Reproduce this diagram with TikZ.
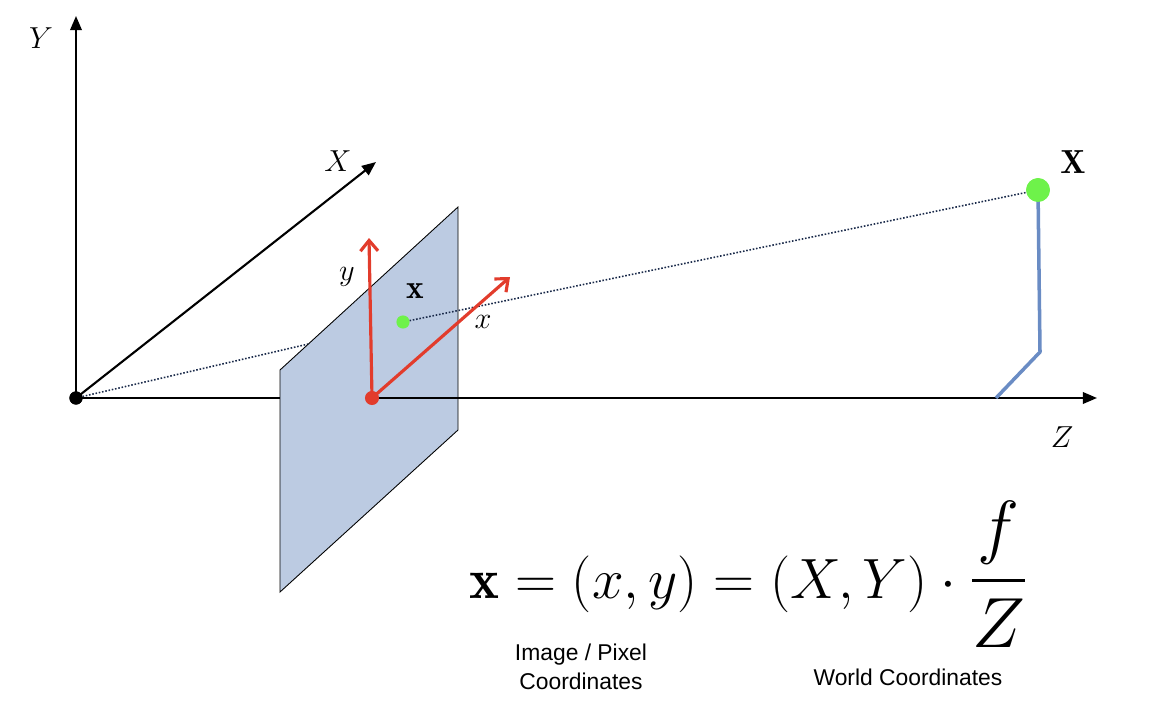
\documentclass[tikz,border=0pt]{standalone}
\usepackage{amsmath,amssymb}
\usepackage{graphicx}
\usepackage{fontspec}
\setsansfont{Liberation Sans}
\usetikzlibrary{arrows.meta,positioning}
\definecolor{planeBlue}{HTML}{BCCBE2}
\definecolor{pinRed}{HTML}{E23C2C}
\definecolor{ptGreen}{HTML}{6EF24A}
\definecolor{poleBlue}{HTML}{6A8CC4}
\definecolor{rayNavy}{HTML}{1A2A4A}

\begin{document}
\begin{tikzpicture}[x=0.02cm,y=-0.02cm,
    axis/.style={line width=1.2pt,-{Triangle[length=8pt,width=6.5pt]}},
    camarrow/.style={pinRed,line width=1.8pt,-{Straight Barb[length=6pt,width=10pt]}},
    ray/.style={rayNavy,densely dotted,line width=0.9pt},
    lbl/.style={font=\fontsize{19}{22}\selectfont,inner sep=0pt},
    dot/.style={circle,inner sep=0pt,minimum size=#1}]
  \useasboundingbox (0,0) rectangle (1158,726);

  % world frame
  \node[dot=7.5pt,fill=black] (origin) at (76,398) {};
  \coordinate (Ytip) at (76,16);
  \coordinate (Xtip) at (376,162);
  \coordinate (Ztip) at (1097,398);
  \node[dot=8pt,fill=pinRed] (centre) at (372,398) {};
  \node[dot=7.5pt,fill=ptGreen] (imgpt) at (403,322) {};
  \node[dot=13.5pt,fill=ptGreen] (worldpt) at (1038,190) {};

  \draw[axis] (origin.center) -- (Ytip);
  \draw[axis] (origin.center) -- (Xtip);
  \draw[line width=1.2pt] (origin.center) -- (centre.center);
  \draw[ray] (origin.center) -- (imgpt.center);

  % image plane
  \draw[fill=planeBlue,line width=0.5pt]
    (280,370) -- (458,207) -- (458,430) -- (280,592) -- cycle;

  \draw[axis] (centre.center) -- (Ztip);
  \draw[ray] (imgpt.center) -- (worldpt.center);
  \draw[camarrow] (centre.center) -- (369,238);
  \draw[camarrow] (centre.center) -- (510,277);

  % pole under the point
  \draw[poleBlue,line width=2pt,line join=round]
    (worldpt.center) -- (1040,352) -- (996,398);
  \node[dot=7.5pt,fill=black] at (origin) {};
  \node[dot=8pt,fill=pinRed] at (centre) {};
  \node[dot=7.5pt,fill=ptGreen] at (imgpt) {};
  \node[dot=13.5pt,fill=ptGreen] at (worldpt) {};

  % labels
  \node[lbl] (Ylbl) at (41,38) {$Y$};
  \node[lbl] (Xlbl) at (338,161) {$X$};
  \node[lbl] (Zlbl) at (1062,437) {$Z$};
  \node[lbl] (ylbl) at (347,277) {$y$};
  \node[lbl] (xlbl) at (483,322) {$x$};
  \node[lbl] (ptlbl) at (415,291) {$\mathbf{x}$};
  \node[lbl] (Ptlbl) at (1073,162) {$\mathbf{X}$};

  % projection equation
  \node[font=\fontsize{24.88}{30}\selectfont,inner sep=0pt] (eq) at (749,574)
    {\scalebox{1.3}{$\mathbf{x} = (x,y) = (X,Y)\cdot
      \scalebox{1.25}{$\dfrac{f}{Z}$}$}};
  \node[font=\sffamily\fontsize{13}{16.5}\selectfont,align=center] (imgtxt) at (581,667)
    {Image / Pixel\\Coordinates};
  \node[font=\sffamily\fontsize{13}{16.5}\selectfont] (wldtxt) at (908,677)
    {World Coordinates};
\end{tikzpicture}
\end{document}
